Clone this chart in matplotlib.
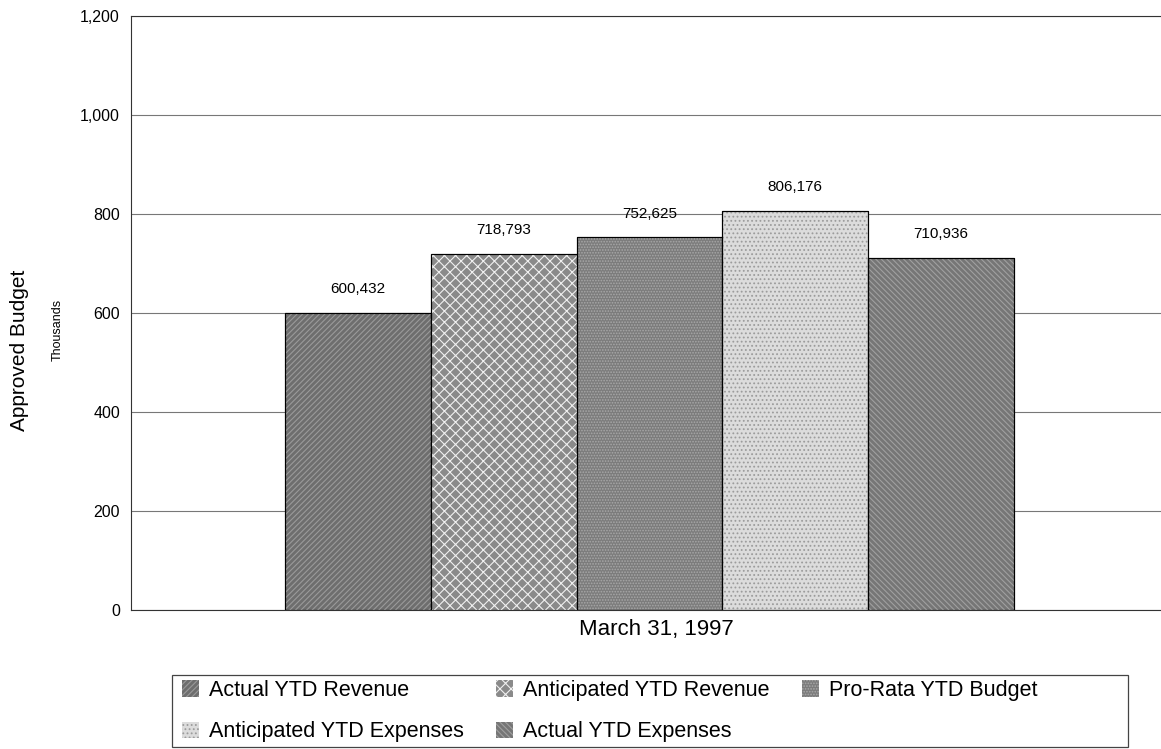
import matplotlib
matplotlib.use("Agg")
import matplotlib.pyplot as plt
from matplotlib.patches import Rectangle, Patch

plt.rcParams['font.family'] = ['Liberation Sans', 'DejaVu Sans']
plt.rcParams['hatch.linewidth'] = 0.8

series = ["Actual YTD Revenue", "Anticipated YTD Revenue", "Pro-Rata YTD Budget",
          "Anticipated YTD Expenses", "Actual YTD Expenses"]
values = [600.432, 718.793, 752.625, 806.176, 710.936]
value_labels = ["600,432", "718,793", "752,625", "806,176", "710,936"]
category = "March 31, 1997"
yticks = [0, 200, 400, 600, 800, 1000, 1200]
ytick_labels = ["0", "200", "400", "600", "800", "1,000", "1,200"]

facecolors = ["#6e6e6e", "#8a8a8a", "#7c7c7c", "#dcdcdc", "#767676"]
hatchcolors = ["#9a9a9a", "#f0f0f0", "#a8a8a8", "#9c9c9c", "#a0a0a0"]
hatches = ["//////", "xxx", "......", "....", "\\\\\\\\\\\\"]

W, H = 1161, 749
fig = plt.figure(figsize=(W / 100, H / 100), dpi=100)
ax = fig.add_axes([131 / W, 1 - 610 / H, (1161 - 131) / W, (610 - 16) / H])

xs = list(range(len(values)))
for i, (x, v) in enumerate(zip(xs, values)):
    ax.bar(x, v, width=1.0, color=facecolors[i], edgecolor="black", linewidth=0.8,
           zorder=3)
    ax.bar(x, v, width=1.0, color="none", edgecolor=hatchcolors[i], hatch=hatches[i],
           linewidth=0, zorder=3)
    ax.bar(x, v, width=1.0, color="none", edgecolor="black", linewidth=0.8, zorder=4)
    ax.text(x, v + 48, value_labels[i], ha="center", va="center", fontsize=11,
            zorder=5)

ax.set_xlim(-1.558, 5.51)
ax.set_ylim(0, 1200)
ax.set_yticks(yticks)
ax.set_yticklabels(ytick_labels, fontsize=11.5)
ax.set_xticks([])
ax.grid(axis="y", color="#777777", linewidth=0.8, zorder=0)
ax.spines["right"].set_visible(False)
for s in ["top", "left", "bottom"]:
    ax.spines[s].set_color("#333333")
ax.tick_params(axis="y", length=0, pad=8)

fig.text(656 / W, 1 - 630 / H, category, ha="center", va="center", fontsize=16)
fig.text(20 / W, 1 - 350 / H, "Approved Budget", rotation=90, ha="center",
         va="center", fontsize=15)
fig.text(58 / W, 1 - 330 / H, "Thousands", rotation=90, ha="center",
         va="center", fontsize=9)

# legend frame
fig.patches.append(Rectangle((172 / W, 1 - 747 / H), (1128 - 172) / W, (747 - 675) / H,
                             transform=fig.transFigure, fill=False,
                             edgecolor="#444444", linewidth=0.9))
handles = [Patch(facecolor=facecolors[i], edgecolor=hatchcolors[i], hatch=hatches[i],
                 linewidth=0) for i in range(len(series))]
order = [0, 3, 1, 4, 2]
leg = fig.legend([handles[i] for i in order], [series[i] for i in order],
                 loc="upper left", bbox_to_anchor=(182 / W, 1 - 680 / H),
                 ncol=3, frameon=False, fontsize=15.5, handlelength=0.8,
                 handleheight=0.8, handletextpad=0.45, columnspacing=1.5,
                 labelspacing=0.95, borderaxespad=0, borderpad=0)

fig.savefig("out.png", dpi=100)
